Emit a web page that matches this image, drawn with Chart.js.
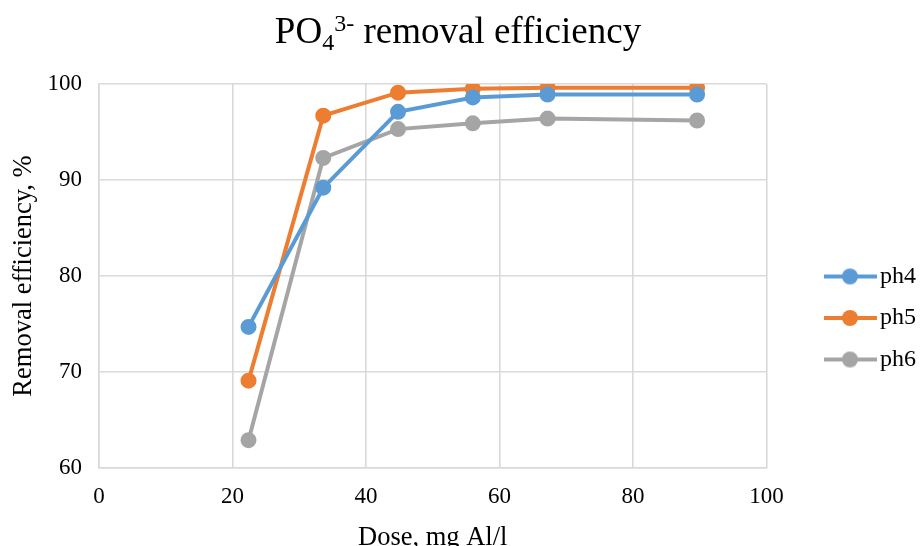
<!DOCTYPE html>
<html>
<head>
<meta charset="utf-8">
<script src="https://cdn.jsdelivr.net/npm/chart.js@4.4.1/dist/chart.umd.min.js"></script>
<style>
  html, body { margin: 0; padding: 0; background: #fff; overflow: hidden; }
  #wrap { position: relative; width: 920px; height: 552px; }
  #title {
    position: absolute; left: 0; top: 12px; width: 916px; text-align: center;
    font-family: 'Liberation Serif', 'Times New Roman', serif; font-size: 37px;
    line-height: 1; color: #000; z-index: 2;
  }
  #title .sub { font-size: 0.65em; position: relative; top: 0.3em; }
  #title .sup { font-size: 0.65em; position: relative; top: -0.5em; }
</style>
</head>
<body>
<div id="wrap">
  <div id="title">PO<span class="sub">4</span><span class="sup">3-</span> removal efficiency</div>
  <canvas id="chart" width="920" height="552"></canvas>
</div>
<script>
'use strict';

// dose, mg Al/l
const doses = [22.4, 33.6, 44.8, 56, 67.2, 89.6];
// removal efficiency, %
const ph4 = [74.7, 89.2, 97.1, 98.6, 98.9, 98.9];
const ph5 = [69.1, 96.7, 99.1, 99.5, 99.6, 99.6];
const ph6 = [62.9, 92.3, 95.3, 95.9, 96.4, 96.2];

const seriesNames = ['ph4', 'ph5', 'ph6'];
const xTicks = [0, 20, 40, 60, 80, 100];
const yTicks = [60, 70, 80, 90, 100];

const colors = ['#5B9BD5', '#ED7D31', '#A5A5A5'];
const serif = "'Liberation Serif', 'Times New Roman', serif";
const gridColor = '#D9D9D9';

// legend marker: line with a dot, like excel (blank left part = spacing)
function legendMarker(color) {
    const c = document.createElement('canvas');
    c.width = 102;
    c.height = 18;
    const g = c.getContext('2d');
    g.strokeStyle = color;
    g.lineWidth = 4;
    g.beginPath();
    g.moveTo(49, 9);
    g.lineTo(102, 9);
    g.stroke();
    g.fillStyle = color;
    g.beginPath();
    g.arc(75, 9, 8, 0, Math.PI * 2);
    g.fill();
    return c;
}

function makeSet(name, values, color) {
    return {
        label: name,
        data: doses.map((d, i) => ({x: d, y: values[i]})),
        borderColor: color,
        backgroundColor: color,
        borderWidth: 4,
        pointRadius: 7,
        pointHoverRadius: 7,
        pointBorderWidth: 2,
        pointBackgroundColor: color,
        pointBorderColor: color,
        tension: 0
    };
}

const allSeries = [ph4, ph5, ph6];
const markers = colors.map(legendMarker);

new Chart(document.getElementById('chart'), {
    type: 'line',
    data: {
        datasets: allSeries.map((s, i) => makeSet(seriesNames[i], s, colors[i]))
    },
    options: {
        responsive: false,
        animation: false,
        layout: {
            padding: {top: 84, right: -6, bottom: 0, left: 0}
        },
        plugins: {
            tooltip: {enabled: false},
            legend: {
                position: 'right',
                labels: {
                    usePointStyle: true,
                    pointStyleWidth: 84,
                    padding: 17.5,
                    color: '#000',
                    font: {family: serif, size: 24},
                    generateLabels: (chart) => chart.data.datasets.map((ds, i) => ({
                        text: ds.label,
                        pointStyle: markers[i],
                        fillStyle: colors[i],
                        strokeStyle: colors[i],
                        lineWidth: 0,
                        hidden: false,
                        datasetIndex: i
                    }))
                }
            }
        },
        scales: {
            x: {
                type: 'linear',
                min: 0,
                max: 100,
                afterBuildTicks: (scale) => { scale.ticks = xTicks.map(v => ({value: v})); },
                afterFit: (scale) => { scale.height = 552 - 468; },
                grid: {color: gridColor, lineWidth: 1.6, drawTicks: false},
                border: {color: gridColor, width: 1.6},
                ticks: {color: '#000', padding: 15, font: {family: serif, size: 23}},
                title: {
                    display: true,
                    text: 'Dose, mg Al/l',
                    color: '#000',
                    font: {family: serif, size: 26.5, lineHeight: 1},
                    padding: {top: 0, bottom: 1}
                }
            },
            y: {
                min: 60,
                max: 100,
                afterBuildTicks: (scale) => { scale.ticks = yTicks.map(v => ({value: v})); },
                afterFit: (scale) => { scale.width = 99; },
                grid: {color: gridColor, lineWidth: 1.6, drawTicks: false},
                border: {color: gridColor, width: 1.6},
                ticks: {color: '#000', padding: 17, font: {family: serif, size: 23}},
                title: {
                    display: true,
                    text: 'Removal efficiency, %',
                    color: '#000',
                    font: {family: serif, size: 26.5, lineHeight: 1.2},
                    padding: {top: 8, bottom: 0}
                }
            }
        }
    }
});
</script>
</body>
</html>
